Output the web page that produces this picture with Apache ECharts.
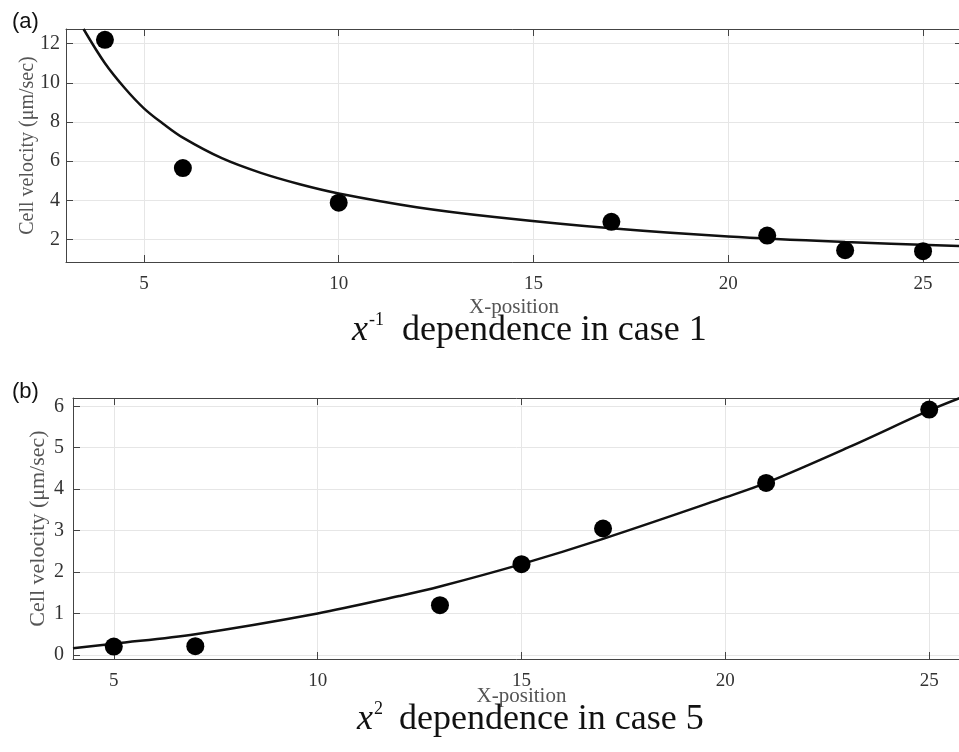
<!DOCTYPE html>
<html>
<head>
<meta charset="utf-8">
<script src="https://cdn.jsdelivr.net/npm/echarts@6/dist/echarts.min.js"></script>
<style>
  html, body { margin: 0; padding: 0; background: #fff; }
  #one { width: 959px; height: 752px; }
</style>
</head>
<body>
<div id="one"></div>
<script>
// (a) case 1 : measured points and fitted x^-1 curve
var a_x = [4, 6, 10, 17, 21, 23, 25];
var a_y = [12.2, 5.65, 3.88, 2.9, 2.2, 1.45, 1.4];
var a_fitX = [3.45, 4, 4.5, 5, 5.5, 6, 7, 8, 9, 10, 12, 14, 17, 20, 23, 26];
var a_fitY = [12.75, 11.0, 9.75, 8.7, 7.9, 7.2, 6.15, 5.4, 4.82, 4.35, 3.65, 3.15, 2.57, 2.15, 1.87, 1.66];
var a_xTicks = [5, 10, 15, 20, 25];
var a_yTicks = [2, 4, 6, 8, 10, 12];

// (b) case 5 : measured points and fitted x^2 curve
var b_x = [5, 7, 13, 15, 17, 21, 25];
var b_y = [0.2, 0.21, 1.2, 2.19, 3.05, 4.15, 5.92];
var b_fitX = [4, 5, 7, 10, 12, 13, 15, 17, 20, 21, 23, 25, 25.75];
var b_fitY = [0.16, 0.27, 0.5, 1.0, 1.42, 1.65, 2.19, 2.8, 3.8, 4.15, 5.0, 5.9, 6.2];
var b_xTicks = [5, 10, 15, 20, 25];
var b_yTicks = [0, 1, 2, 3, 4, 5, 6];

var serif = '"Liberation Serif", "Times New Roman", serif';
var frame = '#444';

function pairs(xs, ys) {
    return xs.map(function (x, i) { return [x, ys[i]]; });
}

// bottom / left axes with labels, top / right axes only for the box ticks
function mainX(grid, min, max, ticks, gap) {
    return {
        type: 'value', gridIndex: grid, min: min, max: max,
        axisLine: { show: true, onZero: false, lineStyle: { color: frame, width: 1 } },
        axisTick: { inside: true, length: 7, customValues: ticks, lineStyle: { color: frame } },
        axisLabel: { customValues: ticks, fontFamily: serif, fontSize: 19, color: '#333', margin: 13 },
        splitLine: { show: true, lineStyle: { color: '#e6e6e6', width: 1 } },
        name: 'X-position', nameLocation: 'middle', nameGap: gap, nameMoveOverlap: false,
        nameTextStyle: { fontFamily: serif, fontSize: 21, color: '#555' }
    };
}
function boxX(grid, min, max, ticks) {
    return {
        type: 'value', gridIndex: grid, min: min, max: max, position: 'top',
        axisLine: { show: true, onZero: false, lineStyle: { color: frame, width: 1 } },
        axisTick: { inside: true, length: 7, customValues: ticks, lineStyle: { color: frame } },
        axisLabel: { show: false }, splitLine: { show: false }
    };
}
function mainY(grid, min, max, ticks, gap, nameSize, margin) {
    return {
        type: 'value', gridIndex: grid, min: min, max: max,
        axisLine: { show: true, onZero: false, lineStyle: { color: frame, width: 1 } },
        axisTick: { inside: true, length: 7, customValues: ticks, lineStyle: { color: frame } },
        axisLabel: { customValues: ticks, fontFamily: serif, fontSize: 20, color: '#333', margin: margin },
        splitLine: { show: true, lineStyle: { color: '#e6e6e6', width: 1 } },
        name: 'Cell velocity (\u03bcm/sec)', nameLocation: 'middle', nameGap: gap, nameMoveOverlap: false,
        nameTextStyle: { fontFamily: serif, fontSize: nameSize, color: '#555' }
    };
}
function boxY(grid, min, max, ticks, visible) {
    return {
        type: 'value', gridIndex: grid, min: min, max: max, position: 'right',
        axisLine: { show: visible, onZero: false, lineStyle: { color: frame, width: 1 } },
        axisTick: { show: visible, inside: true, length: 7, customValues: ticks, lineStyle: { color: frame } },
        axisLabel: { show: false }, splitLine: { show: false }
    };
}

function caption(left, top, sup, supGap, rest) {
    return {
        left: left, top: top, padding: 0,
        text: '{x|x}{s|' + sup + '}{n|' + rest + '}',
        textStyle: {
            fontWeight: 'normal',
            rich: {
                x: { fontFamily: serif, fontStyle: 'italic', fontWeight: 'normal', fontSize: 36, lineHeight: 40, color: '#111' },
                s: { fontFamily: serif, fontWeight: 'normal', fontSize: 18, lineHeight: 6, verticalAlign: 'top', color: '#111', padding: [0, supGap, 0, 1] },
                n: { fontFamily: serif, fontWeight: 'normal', fontSize: 36, lineHeight: 40, color: '#111' }
            }
        }
    };
}

var chart = echarts.init(document.getElementById('one'));
var option = {
    animation: false,
    backgroundColor: '#fff',
    title: [
        caption(352, 311, '-1', 18, 'dependence in case 1'),
        caption(357, 700, '2', 16, 'dependence in case 5')
    ],
    graphic: [
        { type: 'text', left: 12, top: 11, style: { text: '(a)', font: '22px "Liberation Sans", Arial, sans-serif', fill: '#111' } },
        { type: 'text', left: 12, top: 381, style: { text: '(b)', font: '22px "Liberation Sans", Arial, sans-serif', fill: '#111' } }
    ],
    grid: [
        { left: 66, right: -3, top: 29, bottom: 490, outerBoundsMode: 'none' },
        { left: 73, right: -11, top: 398, bottom: 93, outerBoundsMode: 'none' }
    ],
    xAxis: [
        mainX(0, 3, 26, a_xTicks, 35),
        boxX(0, 3, 26, a_xTicks),
        mainX(1, 4, 26, b_xTicks, 27),
        boxX(1, 4, 26, b_xTicks)
    ],
    yAxis: [
        mainY(0, 0.85, 12.75, a_yTicks, 28, 20, 6),
        boxY(0, 0.85, 12.75, a_yTicks, true),
        mainY(1, -0.1, 6.2, b_yTicks, 24, 22, 9),
        boxY(1, -0.1, 6.2, b_yTicks, false)
    ],
    series: [
        {
            type: 'line', xAxisIndex: 0, yAxisIndex: 0, data: pairs(a_fitX, a_fitY),
            showSymbol: false, smooth: 0.35,
            lineStyle: { color: '#111', width: 2.5 }, z: 3
        },
        {
            type: 'scatter', xAxisIndex: 0, yAxisIndex: 0, data: pairs(a_x, a_y),
            symbolSize: 18, itemStyle: { color: '#000', opacity: 1 }, z: 4
        },
        {
            type: 'line', xAxisIndex: 2, yAxisIndex: 2, data: pairs(b_fitX, b_fitY),
            showSymbol: false, smooth: 0.35,
            lineStyle: { color: '#111', width: 2.5 }, z: 3
        },
        {
            type: 'scatter', xAxisIndex: 2, yAxisIndex: 2, data: pairs(b_x, b_y),
            symbolSize: 18, itemStyle: { color: '#000', opacity: 1 }, z: 4
        }
    ]
};
chart.setOption(option);
</script>
</body>
</html>
